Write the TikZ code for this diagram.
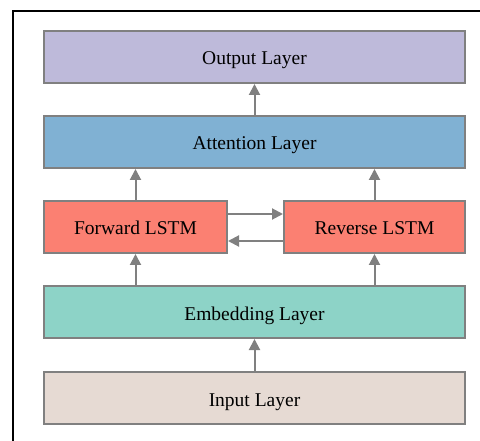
\documentclass[tikz,border=0pt]{standalone}
\usepackage{fontspec}
\setmainfont{Liberation Serif}
\usetikzlibrary{arrows.meta}

\definecolor{outcol}{HTML}{BEBADA}
\definecolor{attcol}{HTML}{80B1D3}
\definecolor{lstmcol}{HTML}{FB8072}
\definecolor{embcol}{HTML}{8DD3C7}
\definecolor{incol}{HTML}{E6DAD3}
\definecolor{edgegray}{HTML}{808080}

\tikzset{
    layer/.style={draw=edgegray, line width=2pt, inner sep=0pt,
        text height=16pt, text depth=0pt,
        minimum height=52pt, font=\fontsize{19.5}{23}\selectfont},
    flow/.style={draw=edgegray, line width=2pt,
        -{Triangle[length=11pt,width=11pt]}}
}

\begin{document}
\begin{tikzpicture}[x=1pt, y=-1pt]
    \useasboundingbox (0,0) rectangle (480,441);
    % Frame
    \draw[line width=2pt] (12.5,441) -- (12.5,11.5) -- (480,11.5);

    % Nodes
    \node[layer, fill=outcol, minimum width=421pt] (out) at (254.5,57) {Output Layer};
    \node[layer, fill=attcol, minimum width=421pt] (att) at (254.5,142) {Attention Layer};
    \node[layer, fill=lstmcol, minimum width=183pt] (fwd) at (135.5,227) {Forward LSTM};
    \node[layer, fill=lstmcol, minimum width=181pt] (rev) at (374.5,227) {Reverse LSTM};
    \node[layer, fill=embcol, minimum width=421pt] (emb) at (254.5,312) {Embedding Layer};
    \node[layer, fill=incol, minimum width=421pt] (inp) at (254.5,398) {Input Layer};

    % Edges
    \draw[flow] (inp) -- (emb);
    \draw[flow] (emb.north -| fwd) -- (fwd);
    \draw[flow] (emb.north -| rev) -- (rev);
    \draw[flow] ([yshift=13pt]fwd.east) -- ([yshift=13pt]rev.west);
    \draw[flow] ([yshift=-14pt]rev.west) -- ([yshift=-14pt]fwd.east);
    \draw[flow] (fwd) -- (fwd |- att.south);
    \draw[flow] (rev) -- (rev |- att.south);
    \draw[flow] (att) -- (out);
\end{tikzpicture}
\end{document}
